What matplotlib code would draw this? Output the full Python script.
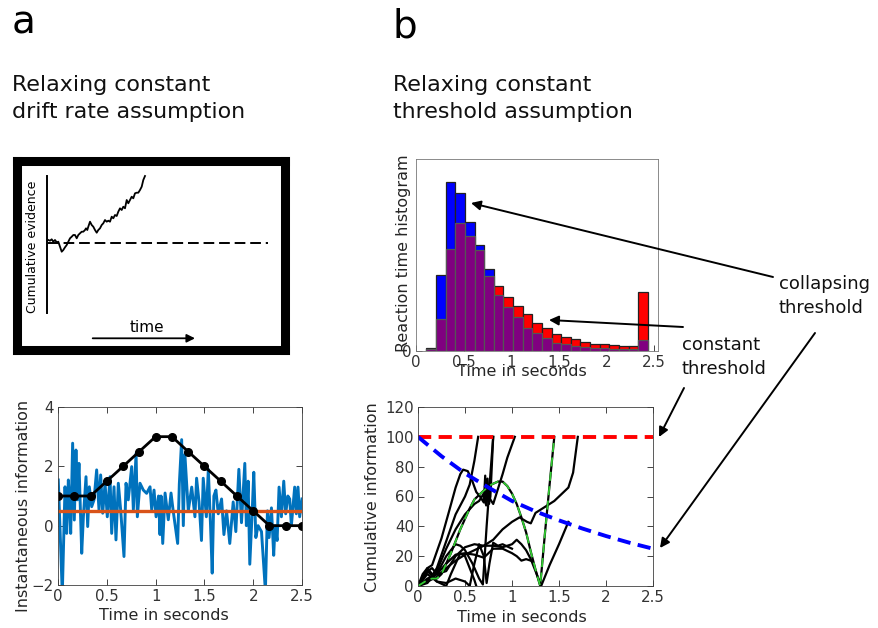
import numpy as np
import matplotlib
matplotlib.use('Agg')
import matplotlib.pyplot as plt
from matplotlib.patches import FancyArrowPatch

W, H = 879, 628
plt.rcParams['font.family'] = ['DejaVu Sans']
TXT = '#262626'

# ---------------- data ----------------
# schematic random walk (box units: time offset, evidence offset)
walk_t = [0.3, 2, 3.7, 5.3, 7, 8.7, 10.3, 12, 13.7, 15.3, 17, 18.7, 20.3, 22, 23.7, 25.3, 27,
          28.7, 30.3, 32, 33.7, 35.3, 37, 38, 39.3, 40.3, 42, 43.7, 45.3, 47, 48.7, 50.3, 52,
          53.7, 55.3, 57, 58.7, 60.3, 62, 63.7, 65.3, 67, 68.7, 70.3, 72, 73.7, 75.3, 77, 78.7,
          80.3, 82, 83.7, 85.3, 87, 88.7, 90.3, 92, 93.7, 95.3, 97]
walk_e = [3.3, 2.6, 4, 1.6, 3.3, 1, 1.6, -3.4, -8.4, -6.7, -4, -1.7, 1.6, 5, 6.6, 8.3, 8.3,
          5, 8.3, 10, 11.6, 11.6, 13.3, 15, 13.3, 16.6, 21.6, 18.3, 16.6, 13.3, 10.6, 13.3, 15,
          18.3, 20, 23.3, 21.6, 22.6, 21.6, 26.6, 25, 28.3, 27.3, 31.6, 35, 33.3, 36.6, 35, 43.3,
          40, 43.3, 46.6, 45, 50, 50.6, 50.6, 53.3, 56.6, 63.3, 67.3]

# instantaneous information samples (time s, value)
signal = [(0.003, 1.54), (0.044, -2.3), (0.072, 1.31), (0.089, -0.26), (0.106, 1.54),
          (0.116, 0.98), (0.13, -0.26), (0.15, 2.78), (0.167, 0.19), (0.184, 2.55),
          (0.198, 0.87), (0.215, 2.1), (0.243, -0.93), (0.26, 0.3), (0.287, 1.65),
          (0.304, -0.03), (0.321, 1.31), (0.345, 0.64), (0.369, 0.87), (0.396, 1.88),
          (0.42, 0.53), (0.437, 1.71), (0.458, 0.42), (0.482, 1.43), (0.505, 0.3),
          (0.533, 1.65), (0.55, -0.26), (0.574, 1.31), (0.594, -0.48), (0.618, 1.43),
          (0.642, 0.53), (0.676, -1.04), (0.697, 1.43), (0.72, 0.87), (0.755, 1.99),
          (0.772, 0.53), (0.8, 2.44), (0.813, 0.3), (0.84, 1.43), (0.874, 1.2), (0.908, 1.09),
          (0.943, 1.31), (0.96, 0.53), (0.984, 1.2), (1.005, 0.3), (1.03, 1.0), (1.045, -0.3),
          (1.056, 1.0), (1.073, -0.6), (1.097, 1.1), (1.13, 0.2), (1.158, 1.1), (1.18, 0.5),
          (1.226, -0.6), (1.243, 1.4), (1.267, 2.9), (1.284, 0.0), (1.30, 2.4), (1.335, 0.5),
          (1.37, 1.3), (1.403, 0.3), (1.42, 1.6), (1.445, 0.8), (1.47, -0.5), (1.488, 1.6),
          (1.52, 0.3), (1.54, 1.9), (1.563, 0.0), (1.58, -1.6), (1.597, 1.0), (1.618, 1.2),
          (1.642, 0.4), (1.676, 0.9), (1.70, -0.3), (1.727, 0.5), (1.76, -0.6), (1.795, 0.8),
          (1.822, -0.2), (1.853, 1.9), (1.88, 0.1), (1.914, 2.1), (1.93, 0.0), (1.948, 1.5),
          (1.965, -1.3), (1.99, 0.5), (2.006, 1.8), (2.027, -0.4), (2.05, 0.0), (2.085, -0.2),
          (2.125, -2.2), (2.146, 0.5), (2.163, -0.4), (2.187, 0.6), (2.21, -1.0), (2.224, 0.0),
          (2.245, -0.5), (2.265, 1.3), (2.289, 0.3), (2.313, 1.5), (2.333, 0.4), (2.355, 1.0),
          (2.374, 0.9), (2.391, 0.0), (2.425, 1.3), (2.442, 0.4), (2.459, 1.3), (2.476, 0.3),
          (2.5, 0.9)]
const_drift = 0.5
drift_t = [0.0, 0.167, 0.333, 0.5, 0.667, 0.833, 1.0, 1.167, 1.333, 1.5, 1.667, 1.833,
           2.0, 2.167, 2.333, 2.5]
drift_v = [1, 1, 1, 1.5, 2, 2.5, 3, 3, 2.5, 2, 1.5, 1, 0.5, 0, 0, 0]

# reaction time histogram (counts, arbitrary units)
rt_first_edge = 0.11
rt_bin_width = 0.101
rt_collapsing = [3.3, 75.7, 169.3, 157.7, 129.3, 105.7, 82, 55.7, 43.7, 34.3, 23.3, 17.7,
                 12.7, 8.3, 7, 5, 4, 3, 2.7, 2.3, 2, 2, 10.7]
rt_constant = [2, 31.7, 102, 127.7, 115.3, 101.3, 75, 64.7, 53.7, 45.3, 36.7, 27.7, 23.3,
               16.7, 14, 11.7, 9.3, 7, 6.7, 6.3, 4.7, 4.7, 58.7]

# thresholds
thr_constant = 100
thr_t = [0, 0.25, 0.5, 0.75, 1.0, 1.25, 1.5, 1.75, 2.0, 2.25, 2.5]
thr_collapsing = [100, 87, 75.5, 66, 57, 50, 44, 38.5, 33.5, 29, 25]

# cumulative information trajectories
tr1_t = [0, 0.05, 0.1, 0.15, 0.2, 0.3, 0.4, 0.5, 0.55, 0.6, 0.64]
tr1_v = [0, 6, 10, 7, 12, 30, 48, 60, 68, 84, 100]
tr2_t = [0, 0.05, 0.1, 0.15, 0.25, 0.33, 0.4, 0.45, 0.48, 0.53, 0.58, 0.62, 0.66, 0.7,
         0.715, 0.725, 0.74, 0.755, 0.77, 0.8]
tr2_v = [0, 8, 12, 14, 32, 50, 66, 75, 78, 77, 70, 63, 60, 56, 74, 54, 72, 55, 60, 100]
tr3_t = [0, 0.1, 0.2, 0.3, 0.4, 0.45, 0.5, 0.58, 0.65, 0.69, 0.73, 0.77, 0.8]
tr3_v = [0, 3, 8, 20, 28, 27, 24, 15, 5, 1, 40, 75, 100]
tr4_t = [0, 0.1, 0.2, 0.3, 0.4, 0.5, 0.6, 0.65, 0.7, 0.72, 0.75, 0.8, 0.85, 0.9, 0.95, 1.03]
tr4_v = [0, 2, 10, 25, 38, 48, 55, 57, 62, 55, 60, 55, 65, 75, 86, 100]
tr5_t = [0, 0.05, 0.1, 0.15, 0.2, 0.25, 0.3, 0.35, 0.4, 0.45, 0.5, 0.55, 0.6, 0.7, 0.78,
         0.85, 0.9, 0.95, 1.0, 1.05, 1.1, 1.15, 1.2, 1.25, 1.3, 1.35, 1.4, 1.45]
tr5_v = [0, 2, 4, 5, 5, 8, 15, 22, 30, 38, 45, 52, 58, 64, 68, 70, 70, 67, 62, 55, 46, 36,
         23, 11, 0, 35, 68, 100]
tr6_t = [0, 0.1, 0.2, 0.3, 0.4, 0.5, 0.6, 0.7, 0.8, 0.9, 1.0, 1.08, 1.16, 1.2, 1.25, 1.35,
         1.45, 1.55, 1.6, 1.65, 1.7]
tr6_v = [0, 3, 6, 12, 17, 21, 24, 27, 31, 38, 43, 46, 43, 42, 49, 53, 57, 63, 66, 76, 100]
tr7_t = [0, 0.1, 0.2, 0.3, 0.4, 0.5, 0.6, 0.7, 0.8, 0.9, 1.0, 1.05, 1.1, 1.15, 1.2, 1.25,
         1.31, 1.4, 1.5, 1.6]
tr7_v = [0, 5, 8, 10, 20, 26, 28, 27, 27, 26, 28, 31, 28, 24, 18, 10, 0, 14, 28, 43]
tr8_t = [0, 0.1, 0.15, 0.2, 0.3, 0.4, 0.5, 0.6, 0.7, 0.8, 0.9, 1.0, 1.05, 1.1, 1.15, 1.2]
tr8_v = [0, 10, 12, 8, 15, 21, 22, 21, 19, 25, 25, 22, 20, 17, 18, 17]
tr9_t = [0, 0.1, 0.15, 0.2, 0.3, 0.4, 0.5, 0.55, 0.6, 0.65, 0.7, 0.73, 0.76, 0.8, 0.85, 0.9, 1.0]
tr9_v = [0, 12, 8, 3, 2, 5, 3, 0, 15, 28, 20, 2, 15, 29, 27, 28, 25]
tr10_t = [0, 0.1, 0.2, 0.3, 0.35, 0.45, 0.5, 0.55, 0.6, 0.62]
tr10_v = [0, 8, 3, 0, 8, 22, 20, 12, 4, 0]

# ---------------- helpers ----------------
fig = plt.figure(figsize=(W / 100, H / 100), dpi=100)


def box(l, t, r, b):
    return [l / W, 1 - b / H, (r - l) / W, (b - t) / H]


def fx(x):
    return x / W


def fy(y):
    return 1 - y / H


def matlab(ax):
    ax.tick_params(direction='in', top=True, right=True, length=4, width=0.6,
                   labelsize=10.8, colors=TXT, labelcolor='#333333', pad=3)
    for s in ax.spines.values():
        s.set_linewidth(0.6)
        s.set_color('#404040')


# ---------------- headings ----------------
fig.text(fx(12), fy(33), 'a', fontsize=28, va='baseline', ha='left', color='black')
fig.text(fx(393), fy(38), 'b', fontsize=28, va='baseline', ha='left', color='black')
for x0, l1, l2 in [(12, 'Relaxing constant', 'drift rate assumption'),
                   (393, 'Relaxing constant', 'threshold assumption')]:
    fig.text(fx(x0), fy(91), l1, fontsize=15.9, va='baseline', ha='left', color='#111111')
    fig.text(fx(x0), fy(118), l2, fontsize=15.9, va='baseline', ha='left', color='#111111')

# ---------------- schematic box ----------------
axs = fig.add_axes(box(16.8, 161.2, 284.8, 349.5))
axs.set_xlim(16.8 - 48, 284.8 - 48)
axs.set_ylim(243.3 - 349.5, 243.3 - 161.2)
axs.set_xticks([])
axs.set_yticks([])
for s in axs.spines.values():
    s.set_linewidth(6.5)
    s.set_color('black')
axs.plot([-0.7, -0.7], [-69.7, 67.3], color='black', lw=1.4)
axs.plot([0, 220], [0, 0], color='black', lw=1.4, linestyle=(0, (5.5, 2.5)))
axs.plot(walk_t, walk_e, color='black', lw=1.3)
axs.text(-15, -3.4, 'Cumulative evidence', rotation=90, ha='center', va='center',
         fontsize=9, color='black')
axs.text(98.7, -84.7, 'time', ha='center', va='center', fontsize=11, color='black')
axs.annotate('', xy=(147, -95), xytext=(44.7, -95),
             arrowprops=dict(arrowstyle='-|>', color='black', lw=1.3, mutation_scale=12,
                             shrinkA=0, shrinkB=0))

# ---------------- panel a bottom ----------------
sig_t = [p[0] for p in signal]
sig_v = [p[1] for p in signal]
axa = fig.add_axes(box(58, 407, 302, 585))
axa.plot(sig_t, sig_v, color='#0072BD', lw=2.1)
axa.plot([0, 2.5], [const_drift, const_drift], color='#D95319', lw=2.4)
axa.plot(drift_t, drift_v, color='black', lw=2.0, marker='o', markersize=5.5)
axa.set_xlim(0, 2.5)
axa.set_ylim(-2, 4)
axa.set_xticks([0, 0.5, 1, 1.5, 2, 2.5])
axa.set_xticklabels(['0', '0.5', '1', '1.5', '2', '2.5'])
axa.set_yticks([-2, 0, 2, 4])
matlab(axa)
fig.text(fx(164), fy(616), 'Time in seconds', ha='center', va='center', fontsize=11.5, color=TXT)
fig.text(fx(24), fy(506), 'Instantaneous information', rotation=90, ha='center', va='center',
         fontsize=11.5, color=TXT)

# ---------------- histogram ----------------
axh = fig.add_axes(box(416, 159, 658, 351))
n = len(rt_collapsing)
lefts = rt_first_edge + rt_bin_width * np.arange(n)
blue = np.array(rt_collapsing)
red = np.array(rt_constant)
taller = np.maximum(blue, red)
axh.bar(lefts, taller, width=rt_bin_width, align='edge',
        color=np.where(blue >= red, '#0000FF', '#FF0000'), edgecolor='#222222', lw=0.9, zorder=4)
axh.bar(lefts, np.minimum(blue, red), width=rt_bin_width, align='edge', color='#800080',
        edgecolor='#555555', lw=0.9, zorder=5)
axh.set_xlim(0, 2.54)
axh.set_ylim(0, 192)
axh.set_xticks([0, 0.5, 1, 1.5, 2, 2.5])
axh.set_xticklabels(['0', '0.5', '1', '1.5', '2', '2.5'])
axh.set_yticks([0])
matlab(axh)
axh.tick_params(top=False, right=False)
for s in axh.spines.values():
    s.set_color('#777777')
fig.text(fx(522), fy(371), 'Time in seconds', ha='center', va='center', fontsize=11.5, color=TXT)
fig.text(fx(404), fy(253), 'Reaction time histogram', rotation=90, ha='center', va='center',
         fontsize=11.5, color=TXT)

# ---------------- panel b bottom ----------------
axb = fig.add_axes(box(418, 407, 653, 586))
trajs = [(tr1_t, tr1_v), (tr2_t, tr2_v), (tr3_t, tr3_v), (tr4_t, tr4_v), (tr6_t, tr6_v),
         (tr7_t, tr7_v), (tr8_t, tr8_v), (tr9_t, tr9_v), (tr10_t, tr10_v), (tr5_t, tr5_v)]
for tt, vv in trajs:
    axb.plot(tt, vv, color='black', lw=1.6)
axb.plot(tr5_t, tr5_v, color='#33CC33', lw=1.3, linestyle=(0, (5, 3)))
axb.plot([0, 2.5], [thr_constant, thr_constant], color='#FF0000', lw=2.8,
         linestyle=(0, (3.4, 1.9)))
axb.plot(thr_t, thr_collapsing, color='#0000FF', lw=2.8, linestyle=(0, (3.4, 1.9)))
axb.set_xlim(0, 2.5)
axb.set_ylim(0, 120)
axb.set_xticks([0, 0.5, 1, 1.5, 2, 2.5])
axb.set_xticklabels(['0', '0.5', '1', '1.5', '2', '2.5'])
axb.set_yticks([0, 20, 40, 60, 80, 100, 120])
matlab(axb)
fig.text(fx(522), fy(617), 'Time in seconds', ha='center', va='center', fontsize=11.5, color=TXT)
fig.text(fx(373), fy(497), 'Cumulative information', rotation=90, ha='center', va='center',
         fontsize=11.5, color=TXT)

# ---------------- annotations ----------------
fig.text(fx(779), fy(289), 'collapsing', fontsize=13, va='baseline', ha='left', color='#111111')
fig.text(fx(779), fy(313), 'threshold', fontsize=13, va='baseline', ha='left', color='#111111')
fig.text(fx(682), fy(350), 'constant', fontsize=13, va='baseline', ha='left', color='#111111')
fig.text(fx(682), fy(374), 'threshold', fontsize=13, va='baseline', ha='left', color='#111111')


def arrow(x0, y0, x1, y1):
    a = FancyArrowPatch((fx(x0), fy(y0)), (fx(x1), fy(y1)), transform=fig.transFigure,
                        arrowstyle='-|>', color='black', lw=1.4, mutation_scale=14,
                        shrinkA=0, shrinkB=0)
    fig.add_artist(a)


arrow(773, 277, 471, 203)
arrow(683, 327, 549, 320)
arrow(684, 388, 659, 437)
arrow(815, 333, 660, 548)

fig.savefig('out.png', dpi=100)
